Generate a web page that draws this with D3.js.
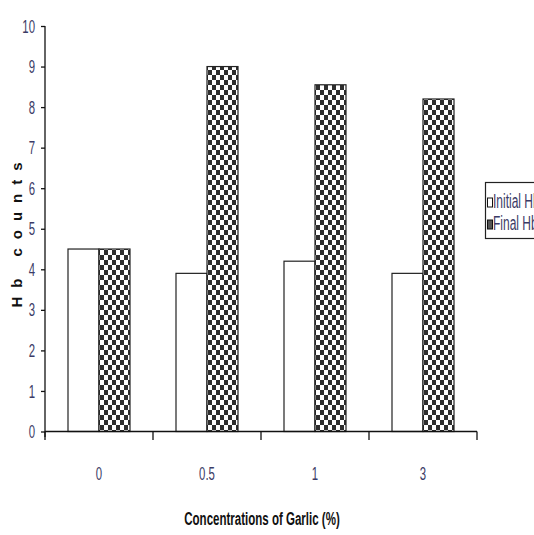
<!DOCTYPE html>
<html><head><meta charset="utf-8">
<script src="https://cdn.jsdelivr.net/npm/d3@7"></script>
<style>body{margin:0;background:#fff}svg{display:block}</style>
</head><body>
<script>
const categories = ["0", "0.5", "1", "3"];
const initialHb = [4.5, 3.9, 4.2, 3.9];
const finalHb = [4.5, 9.0, 8.55, 8.2];
const seriesNames = ["Initial Hb", "Final Hb"];
const yTicks = [0,1,2,3,4,5,6,7,8,9,10];

const W = 534, H = 535;
const svg = d3.select("body").append("svg").attr("width", W).attr("height", H);
const defs = svg.append("defs");
const pat = defs.append("pattern").attr("id","chk").attr("patternUnits","userSpaceOnUse")
  .attr("width",8).attr("height",10);
pat.append("rect").attr("width",8).attr("height",10).attr("fill","#fff");
pat.append("rect").attr("x",0).attr("y",0).attr("width",4).attr("height",5).attr("fill","#2e2e2e");
pat.append("rect").attr("x",4).attr("y",5).attr("width",4).attr("height",5).attr("fill","#2e2e2e");

const x = d3.scaleBand().domain(categories).range([45, 477]).paddingInner(0).paddingOuter(0);
const sub = d3.scaleBand().domain(seriesNames).range([23, 85]);
const y = d3.scaleLinear().domain([0, 10]).range([431.5, 26]);

const font = "'Liberation Sans', Arial, sans-serif";
const labelColor = "#3b3b66";
const NX = 0.6; // horizontal squeeze to mimic narrow font

// bars
const data = categories.map((c,i)=>({c, vals:[initialHb[i], finalHb[i]]}));
const g = svg.append("g");
data.forEach(d=>{
  d.vals.forEach((v,j)=>{
    g.append("rect")
      .attr("x", x(d.c) + sub(seriesNames[j]))
      .attr("y", y(v))
      .attr("width", sub.bandwidth())
      .attr("height", y(0) - y(v))
      .attr("fill", j===0 ? "#fff" : "url(#chk)")
      .attr("stroke", "#222").attr("stroke-width", 1.2);
  });
});

// y axis
const ya = svg.append("g").attr("transform","translate(45,0)")
  .call(d3.axisLeft(y).tickValues(yTicks).tickSize(4).tickFormat(d3.format("d")));
ya.select(".domain").attr("stroke","#111").attr("stroke-width",1.3).attr("d","M0,26V437");
ya.selectAll(".tick line").attr("stroke","#111").attr("stroke-width",1.3);
ya.selectAll(".tick text")
  .attr("x",0).attr("transform",`translate(-10,0) scale(${NX},1)`)
  .attr("font-family",font).attr("font-size",19).attr("fill",labelColor);

// x axis
const xa = svg.append("g").attr("transform","translate(0,431.5)")
  .call(d3.axisBottom(x).tickSize(0));
xa.select(".domain").attr("stroke","#111").attr("stroke-width",1.3).attr("d","M45,0H477");
xa.selectAll(".tick text")
  .attr("y",0).attr("dy",0).attr("transform",`translate(0,48) scale(${NX},1)`)
  .attr("font-family",font).attr("font-size",19).attr("fill",labelColor);
const bounds = [45,153,261,369,477];
svg.append("g").selectAll("line").data(bounds).join("line")
  .attr("x1",d=>d).attr("x2",d=>d).attr("y1",431.5).attr("y2",440)
  .attr("stroke","#111").attr("stroke-width",1.3);

// axis titles
svg.append("text").attr("transform","translate(262,525) scale(0.64,1)").attr("text-anchor","middle")
  .attr("font-family",font).attr("font-weight","bold").attr("font-size",18).attr("fill","#111")
  .text("Concentrations of Garlic (%)");
svg.append("text").attr("transform","translate(22,235) rotate(-90)").attr("text-anchor","middle")
  .attr("font-family",font).attr("font-weight","bold").attr("font-size",15)
  .attr("textLength",145).attr("lengthAdjust","spacing").attr("fill","#111")
  .text("Hb counts");

// legend
const lg = svg.append("g");
lg.append("rect").attr("x",485.5).attr("y",182.5).attr("width",60).attr("height",56)
  .attr("fill","#fff").attr("stroke","#222").attr("stroke-width",1.2);
seriesNames.forEach((n,i)=>{
  const yy = 201 + i*22;
  lg.append("rect").attr("x",487.5).attr("y",yy-3).attr("width",5).attr("height",9)
    .attr("fill", i===0 ? "#fff" : "#555").attr("stroke","#111").attr("stroke-width",1);
  lg.append("text").attr("transform",`translate(493,${yy+7}) scale(${NX},1)`)
    .attr("font-family",font).attr("font-size",20)
    .attr("fill",labelColor).text(n);
});
</script>
</body></html>
